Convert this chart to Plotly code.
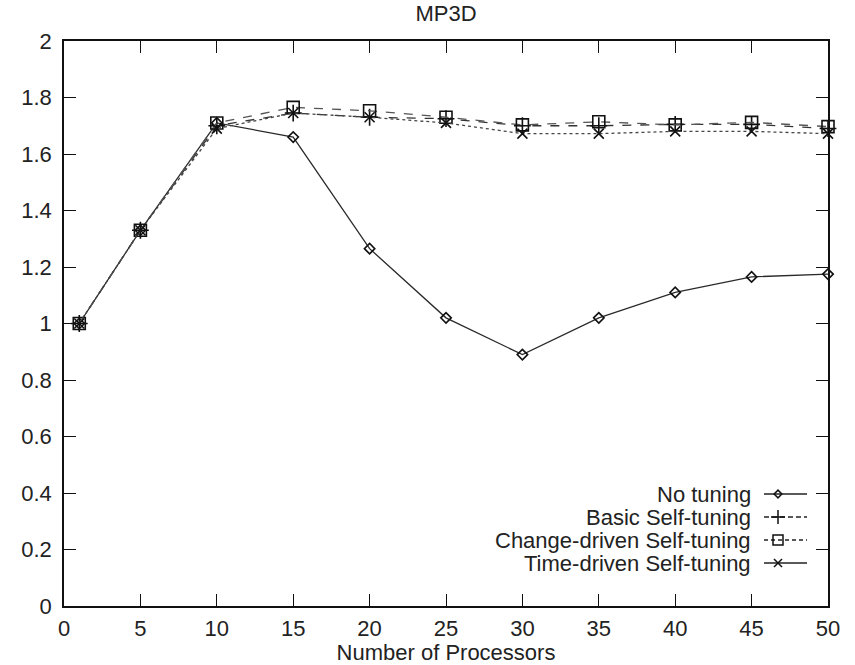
import plotly.graph_objects as go

processors = [1, 5, 10, 15, 20, 25, 30, 35, 40, 45, 50]
no_tuning = [1.00, 1.33, 1.71, 1.66, 1.265, 1.02, 0.89, 1.02, 1.11, 1.165, 1.175]
basic_self = [1.00, 1.33, 1.70, 1.745, 1.73, 1.725, 1.70, 1.70, 1.705, 1.705, 1.69]
change_self = [1.00, 1.33, 1.71, 1.765, 1.753, 1.73, 1.703, 1.714, 1.703, 1.712, 1.697]
time_self = [1.00, 1.33, 1.69, 1.745, 1.73, 1.71, 1.672, 1.672, 1.68, 1.68, 1.672]

series_names = ["No tuning", "Basic Self-tuning", "Change-driven Self-tuning", "Time-driven Self-tuning"]
x_ticks = [0, 5, 10, 15, 20, 25, 30, 35, 40, 45, 50]
y_ticks = [0, 0.2, 0.4, 0.6, 0.8, 1, 1.2, 1.4, 1.6, 1.8, 2]

FONT = "Liberation Sans, Arial, Helvetica, sans-serif"
FS = 22

styles = [
    dict(color="#2a2a2a", dash="solid", symbol="diamond-open", size=8),
    dict(color="#333333", dash="dash", symbol="cross-thin-open", size=12),
    dict(color="#555555", dash="dash", symbol="square-open", size=12),
    dict(color="#444444", dash="dot", symbol="x-thin-open", size=10),
]
legend_dash = ["solid", "5px,3px", "4px,3px", "solid"]
all_y = [no_tuning, basic_self, change_self, time_self]

fig = go.Figure()
for name, ys, st in zip(series_names, all_y, styles):
    fig.add_trace(go.Scatter(
        x=processors, y=ys, name=name, mode="lines+markers",
        line=dict(color=st["color"], width=1.3, dash=st["dash"]),
        marker=dict(symbol=st["symbol"], size=st["size"], color="#111111",
                    line=dict(color="#111111", width=1.6)),
        showlegend=False, cliponaxis=False,
    ))

# Custom gnuplot-style legend (text left, sample right), in pixel-like overlay axis
leg_rows_y = [494, 517, 540, 563]
for name, ry, st, ld in zip(series_names, leg_rows_y, styles, legend_dash):
    fig.add_trace(go.Scatter(
        x=[764, 807], y=[ry, ry], mode="lines", xaxis="x2", yaxis="y2",
        line=dict(color="#222222", width=1.4, dash=ld), showlegend=False, hoverinfo="skip",
    ))
    fig.add_trace(go.Scatter(
        x=[778], y=[ry], mode="markers", xaxis="x2", yaxis="y2",
        marker=dict(symbol=st["symbol"], size=st["size"] - 2, color="#111111",
                    line=dict(color="#111111", width=1.5)),
        showlegend=False, hoverinfo="skip",
    ))
    fig.add_annotation(x=753, y=ry, xref="x2", yref="y2", text=name, showarrow=False,
                       xanchor="right", yanchor="middle",
                       font=dict(family=FONT, size=FS, color="#222222"))

axis_common = dict(
    showgrid=False, zeroline=False, showline=True, linecolor="#111111", linewidth=1.5,
    mirror="allticks", ticks="inside", ticklen=12, tickwidth=1.3, tickcolor="#111111",
    tickfont=dict(family=FONT, size=FS, color="#222222"), automargin=False,
)

fig.update_layout(
    width=855, height=665,
    margin=dict(l=64, r=27, t=41, b=59),
    paper_bgcolor="white", plot_bgcolor="white",
    title=dict(text="MP3D", x=(64 + 828) / 2 / 855, xanchor="center",
               y=1 - 13 / 665, yref="container", yanchor="middle",
               font=dict(family=FONT, size=FS, color="#222222")),
    xaxis=dict(range=[0, 50], tickvals=x_ticks, ticklabelstandoff=2,
               title=dict(text="Number of Processors", standoff=0,
                          font=dict(family=FONT, size=FS, color="#222222")),
               **axis_common),
    yaxis=dict(range=[0, 2], tickvals=y_ticks, ticklabelstandoff=6, **axis_common),
    xaxis2=dict(range=[64, 828], overlaying="x", visible=False, fixedrange=True),
    yaxis2=dict(range=[606, 41], overlaying="y", visible=False, fixedrange=True),
    showlegend=False,
)

fig.write_html("out.html", config={"displayModeBar": False},
               post_script="document.body.style.margin='0px';document.body.style.overflow='hidden';")
